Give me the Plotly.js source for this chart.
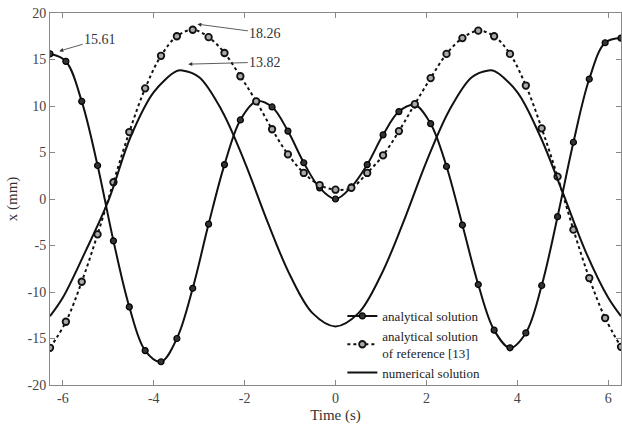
<!DOCTYPE html>
<html>
<head>
<meta charset="utf-8">
<script src="https://cdn.plot.ly/plotly-3.0.1.min.js"></script>
<style>html,body{margin:0;padding:0;background:#fff}#chart{width:622px;height:424px}</style>
</head>
<body>
<div id="chart"></div>
<script>
// Marker sample times (s): -2π ... 2π in steps of π/9
var markerTimes = [-6.283,-5.934,-5.585,-5.236,-4.887,-4.538,-4.189,-3.840,-3.491,-3.142,-2.793,-2.443,-2.094,-1.745,-1.396,-1.047,-0.698,-0.349,0,0.349,0.698,1.047,1.396,1.745,2.094,2.443,2.793,3.142,3.491,3.840,4.189,4.538,4.887,5.236,5.585,5.934,6.283];
// analytical solution x (mm)
var analyticalX = [15.61,14.8,10.5,3.6,-4.5,-11.6,-16.3,-17.5,-15.0,-9.6,-2.7,3.7,8.5,10.5,9.9,7.3,3.9,1.2,0.0,1.3,3.7,6.9,9.4,10.1,8.1,3.5,-2.8,-9.2,-14.1,-16.0,-14.4,-9.3,-1.9,6.1,12.9,16.8,17.3];
// analytical solution of reference [13] x (mm)
var referenceX = [-16.0,-13.2,-8.9,-3.8,1.8,7.2,11.9,15.4,17.5,18.2,17.4,15.7,13.2,10.5,7.5,4.8,2.8,1.5,1.0,1.2,2.8,4.7,7.3,10.2,13.0,15.6,17.3,18.1,17.5,15.6,12.2,7.6,2.4,-3.3,-8.5,-12.8,-15.9];
// numerical solution
var numericalT = [-6.283,-6.0,-5.5,-5.0,-4.5,-4.0,-3.5,-3.37,-3.0,-2.5,-2.0,-1.5,-1.0,-0.5,0,0.5,1.0,1.5,2.0,2.5,3.0,3.37,3.5,4.0,4.5,5.0,5.5,6.0,6.283];
var numericalX = [-12.6,-10.6,-5.6,-0.2,6.8,11.5,13.75,13.82,13.1,9.5,4.0,-2.4,-8.2,-12.3,-13.7,-12.3,-8.2,-2.4,4.0,9.5,13.1,13.82,13.75,11.5,6.8,0.7,-5.6,-10.6,-12.6];
// tick values
var xTicks = [-6,-4,-2,0,2,4,6];
var yTicks = [-20,-15,-10,-5,0,5,10,15,20];
// annotation labels
var peakLabels = ["15.61","18.26","13.82"];
var peakPoints = [[-6.08,15.9],[-3.04,18.8],[-3.24,14.5]];
var labelOffsets = [[41,-12],[68,9],[77,-2]];

var serif = "Liberation Serif, Times New Roman, serif";

var traces = [
  {x: markerTimes, y: analyticalX, mode: "lines+markers", name: "analytical solution",
   line: {color: "#111", width: 2, shape: "spline"},
   marker: {symbol: "circle", size: 6, color: "#333", line: {color: "#000", width: 1.2}}},
  {x: markerTimes, y: referenceX, mode: "lines+markers", name: "analytical solution<br>of reference [13]",
   line: {color: "#111", width: 2, dash: "dot", shape: "spline"},
   marker: {symbol: "circle", size: 6.5, color: "#aaa", line: {color: "#111", width: 1.8}}},
  {x: numericalT, y: numericalX, mode: "lines", name: "numerical solution",
   line: {color: "#111", width: 2, shape: "spline"}}
];

var annotations = peakLabels.map(function(t, i){
  return {x: peakPoints[i][0], y: peakPoints[i][1], xref: "x", yref: "y",
    text: t, showarrow: true, arrowhead: 2, arrowsize: 1, arrowwidth: 0.8, arrowcolor: "#333",
    ax: labelOffsets[i][0], ay: labelOffsets[i][1],
    font: {family: serif, size: 14, color: "#333"}};
});

var layout = {
  width: 622, height: 424,
  margin: {l: 50, r: 1, t: 13, b: 39},
  paper_bgcolor: "#fff", plot_bgcolor: "#fff",
  font: {family: serif, size: 13, color: "#444"},
  showlegend: true,
  legend: {x: 0.512, y: 0.226, xanchor: "left", yanchor: "top", bgcolor: "rgba(0,0,0,0)",
    font: {family: serif, size: 13, color: "#222"}, tracegroupgap: 0, itemsizing: "trace"},
  xaxis: {range: [-6.2832, 6.2832], tickvals: xTicks, ticktext: xTicks.map(String),
    ticks: "inside", ticklen: 5, tickcolor: "#888", showline: true, linecolor: "#888", linewidth: 1,
    mirror: "ticks", showgrid: false, zeroline: false,
    tickfont: {family: serif, size: 14, color: "#444"},
    title: {text: "Time (s)", font: {family: serif, size: 15, color: "#333"}, standoff: 4}},
  yaxis: {range: [-20, 20], tickvals: yTicks, ticktext: yTicks.map(String),
    ticks: "inside", ticklen: 5, tickcolor: "#888", showline: true, linecolor: "#888", linewidth: 1,
    mirror: "ticks", showgrid: false, zeroline: false,
    tickfont: {family: serif, size: 14, color: "#444"},
    title: {text: "x (mm)", font: {family: serif, size: 15, color: "#333"}, standoff: 6}},
  annotations: annotations
};

Plotly.newPlot("chart", traces, layout, {displayModeBar: false, staticPlot: true});
</script>
</body>
</html>
